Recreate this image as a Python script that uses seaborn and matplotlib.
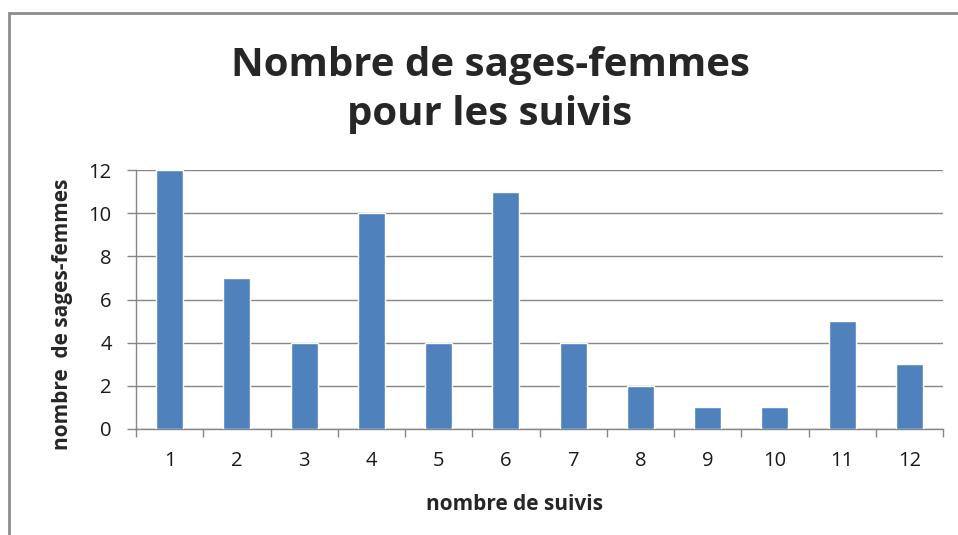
import numpy as np
import pandas as pd
import matplotlib
matplotlib.use('Agg')
import matplotlib.pyplot as plt
from matplotlib.patches import Rectangle
import seaborn as sns

# data
suivis = ['1', '2', '3', '4', '5', '6', '7', '8', '9', '10', '11', '12']
sages_femmes = [12, 7, 4, 10, 4, 11, 4, 2, 1, 1, 5, 3]
y_ticks = [0, 2, 4, 6, 8, 10, 12]

BAR = '#4F81BD'
GRID = '#868686'

sns.set_style('white')
plt.rcParams['font.family'] = ['Open Sans', 'DejaVu Sans']

df = pd.DataFrame({'suivis': suivis, 'n': sages_femmes})

fig = plt.figure(figsize=(9.58, 5.35), dpi=100)
ax = fig.add_axes([136/958, 1 - 429/535, (943 - 136)/958, (429 - 170)/535])

sns.barplot(data=df, x='suivis', y='n', order=suivis, color=BAR,
            saturation=1, width=0.4, ax=ax, zorder=3)

ax.set_xlim(-0.5, len(suivis) - 0.5)
ax.set_ylim(0, 12)
ax.set_yticks(y_ticks)
ax.set_yticklabels([str(v) for v in y_ticks])
ax.yaxis.grid(True, color=GRID, linewidth=1)
ax.set_axisbelow(True)

# x ticks between categories, labels in the middle
ax.set_xticks(np.arange(len(suivis)))
ax.set_xticklabels(suivis)
ax.set_xticks(np.arange(len(suivis) + 1) - 0.5, minor=True)
ax.tick_params(axis='x', which='major', length=0, pad=16, labelsize=14.5,
               labelcolor='#1a1a1a')
ax.tick_params(axis='x', which='minor', length=6, width=1, color=GRID,
               direction='out', bottom=True)
ax.tick_params(axis='y', length=6.5, width=1, color=GRID, direction='out',
               left=True, pad=11, labelsize=14.5, labelcolor='#1a1a1a')

for side in ['top', 'right']:
    ax.spines[side].set_visible(False)
for side in ['left', 'bottom']:
    ax.spines[side].set_color(GRID)
    ax.spines[side].set_linewidth(1)

ax.set_xlabel('')
ax.set_ylabel('')

fig.text(63/958, 1 - 314/535, 'nombre  de sages-femmes', rotation=90,
         ha='center', va='center', fontsize=15, fontweight='bold')
fig.text(514/958, 1 - 504/535, 'nombre de suivis', ha='center',
         va='center', fontsize=15, fontweight='bold')
fig.text(490/958, 1 - 90/535, 'Nombre de sages-femmes\npour les suivis',
         ha='center', va='center', fontsize=29, fontweight='bold',
         linespacing=1.32)

# outer chart frame
fig.patches.append(Rectangle((9/958, -0.1), 1.1, 1 - 13/535 + 0.1,
                             transform=fig.transFigure, fill=False,
                             edgecolor='#8c8c8c', linewidth=2))

fig.savefig('out.png', dpi=100)
